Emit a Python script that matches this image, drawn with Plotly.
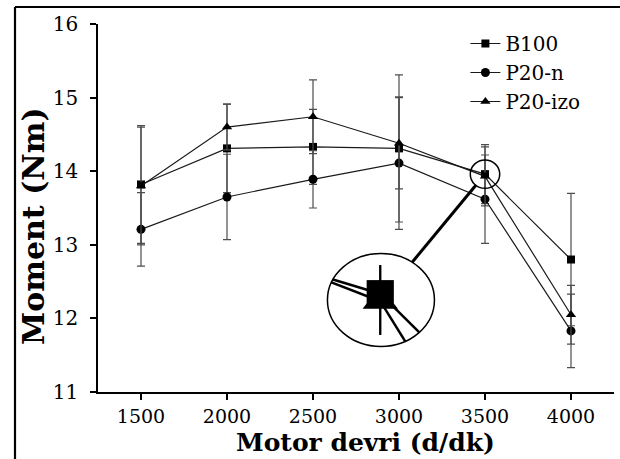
import math
import plotly.graph_objects as go

# Engine torque vs. speed for three fuels (mean ± standard deviation)
rpm = [1500, 2000, 2500, 3000, 3500, 4000]
tick_labels = ["1500", "2000", "2500", "3000", "3500", "4000"]
b100 = [13.82, 14.31, 14.33, 14.31, 13.96, 12.80]
b100_err = [0.80, 0.60, 0.51, 1.00, 0.40, 0.90]
p20n = [13.21, 13.65, 13.89, 14.11, 13.62, 11.83]
p20n_err = [0.50, 0.58, 0.39, 0.90, 0.60, 0.50]
p20izo = [13.80, 14.60, 14.74, 14.38, 13.93, 12.05]
p20izo_err = [0.80, 0.31, 0.50, 0.62, 0.40, 0.40]

series_names = ["B100", "P20-n", "P20-izo"]
x_title = "Motor devri (d/dk)"
y_title = "Moment (Nm)"

# ---- layout constants ----
W, H = 620, 459
ML, MR, MT, MB = 98, 6, 24, 67
XR = [1250, 4250]
YR = [11, 16]
PW, PH = W - ML - MR, H - MT - MB
SX = PW / (XR[1] - XR[0])   # px per rpm
SY = PH / (YR[1] - YR[0])   # px per Nm
FONT = "DejaVu Serif"
LINE_C = "#1a1a1a"
ERR_C = "#4d4d4d"

marker_styles = [("square", 8), ("circle", 9), ("triangle-up", 9)]
values = [b100, p20n, p20izo]
errors = [b100_err, p20n_err, p20izo_err]

fig = go.Figure()
for name, ys, es, (sym, sz) in zip(series_names, values, errors, marker_styles):
    fig.add_trace(go.Scatter(
        x=rpm, y=ys, name=name, mode="lines+markers",
        line=dict(color=LINE_C, width=1.2),
        marker=dict(symbol=sym, size=sz, color="black"),
        error_y=dict(type="data", array=es, visible=True,
                     color=ERR_C, thickness=1.2, width=4),
        cliponaxis=False,
    ))

# ---- magnifier lens around the 3500 rpm point ----
FOCUS = 4
fx, fy = rpm[FOCUS], b100[FOCUS]
small_rx, small_ry = 14.7 / SX, 14.2 / SY
lens_cx, lens_cy = 2895.0, 12.25
lens_rx, lens_ry = 53.5 / SX, 46.5 / SY
orig_x, orig_y = lens_cx - 0.7 / SX, lens_cy + 6.3 / SY
MAG = 3.4


def mag(x, y):
    return orig_x + MAG * (x - fx), orig_y + MAG * (y - fy)


def clip(a, b, k=1.0):
    """Clip segment a-b to the lens ellipse scaled by k."""
    ax, ay = (a[0] - lens_cx) / (k * lens_rx), (a[1] - lens_cy) / (k * lens_ry)
    bx, by = (b[0] - lens_cx) / (k * lens_rx), (b[1] - lens_cy) / (k * lens_ry)
    dx, dy = bx - ax, by - ay
    qa = dx * dx + dy * dy
    qb = 2 * (ax * dx + ay * dy)
    qc = ax * ax + ay * ay - 1
    disc = qb * qb - 4 * qa * qc
    if qa == 0 or disc < 0:
        return None
    t1 = (-qb - math.sqrt(disc)) / (2 * qa)
    t2 = (-qb + math.sqrt(disc)) / (2 * qa)
    t1, t2 = max(t1, 0.0), min(t2, 1.0)
    if t1 >= t2:
        return None
    p = lambda t: (a[0] + t * (b[0] - a[0]), a[1] + t * (b[1] - a[1]))
    return p(t1), p(t2)


def inside(pt):
    return ((pt[0] - lens_cx) / lens_rx) ** 2 + ((pt[1] - lens_cy) / lens_ry) ** 2 < 1


shapes = []
# small lens ring
shapes.append(dict(type="circle", xref="x", yref="y",
                   x0=fx - small_rx, x1=fx + small_rx, y0=fy - small_ry, y1=fy + small_ry,
                   line=dict(color="black", width=1.5)))
# big lens
shapes.append(dict(type="circle", xref="x", yref="y",
                   x0=lens_cx - lens_rx, x1=lens_cx + lens_rx,
                   y0=lens_cy - lens_ry, y1=lens_cy + lens_ry,
                   fillcolor="white", line=dict(color="black", width=1.5)))

# connector between the two lenses
ux, uy = (lens_cx - fx) * SX, (lens_cy - fy) * SY
n = math.hypot(ux, uy)
ux, uy = ux / n, uy / n
r_small = 1 / math.sqrt((ux / (small_rx * SX)) ** 2 + (uy / (small_ry * SY)) ** 2)
r_big = 1 / math.sqrt((ux / (lens_rx * SX)) ** 2 + (uy / (lens_ry * SY)) ** 2)
shapes.append(dict(type="line", xref="x", yref="y",
                   x0=fx + ux * r_small / SX, y0=fy + uy * r_small / SY,
                   x1=lens_cx - ux * r_big / SX, y1=lens_cy - uy * r_big / SY,
                   line=dict(color="black", width=3)))

# magnified error bars
for ys, es in zip(values, errors):
    c = mag(rpm[FOCUS], ys[FOCUS])
    if not inside(c):
        continue
    seg = clip(mag(rpm[FOCUS], ys[FOCUS] - es[FOCUS]), mag(rpm[FOCUS], ys[FOCUS] + es[FOCUS]), 0.75)
    if seg:
        shapes.append(dict(type="line", xref="x", yref="y",
                           x0=seg[0][0], y0=seg[0][1], x1=seg[1][0], y1=seg[1][1],
                           line=dict(color="black", width=2)))

# magnified series lines
for ys in values:
    for j in (FOCUS - 1, FOCUS + 1):
        seg = clip(mag(rpm[FOCUS], ys[FOCUS]), mag(rpm[j], ys[j]))
        if seg:
            shapes.append(dict(type="line", xref="x", yref="y",
                               x0=seg[0][0], y0=seg[0][1], x1=seg[1][0], y1=seg[1][1],
                               line=dict(color="black", width=2.5)))


def marker_path(sym, size, cx, cy):
    s = size * MAG
    r = s / 2
    if sym == "triangle-up":
        rt = r * 2 / math.sqrt(3)
        pts = [(-rt, -r / 2), (rt, -r / 2), (0, r)]
    elif sym == "square":
        pts = [(-r, -r), (r, -r), (r, r), (-r, r)]
    else:
        return None
    d = "M " + " L ".join(f"{cx + px / SX},{cy + py / SY}" for px, py in pts) + " Z"
    return d


# magnified markers (triangle beneath the square)
for idx in (2, 0, 1):
    ys = values[idx]
    c = mag(rpm[FOCUS], ys[FOCUS])
    if not inside(c):
        continue
    sym, sz = marker_styles[idx]
    path = marker_path(sym, sz, c[0], c[1])
    if path:
        shapes.append(dict(type="path", xref="x", yref="y", path=path,
                           fillcolor="black", line=dict(color="black", width=0)))

# outer frame (left and top edges)
fx0 = (15 - ML) / PW
fy1 = (H - MB - 7) / PH
shapes.append(dict(type="line", xref="paper", yref="paper",
                   x0=fx0, x1=fx0, y0=fy1, y1=-0.3, line=dict(color="black", width=2.2)))
shapes.append(dict(type="line", xref="paper", yref="paper",
                   x0=fx0, x1=1.05, y0=fy1, y1=fy1, line=dict(color="black", width=2.2)))

# axis titles
annotations = [
    dict(text=x_title, xref="paper", yref="paper",
         x=(365 - ML) / PW, y=(H - MB - 442) / PH, xanchor="center", yanchor="middle",
         showarrow=False, font=dict(family=FONT, size=25, weight="bold", color="black")),
    dict(text=y_title, xref="paper", yref="paper",
         x=(33 - ML) / PW, y=(H - MB - 226) / PH, xanchor="center", yanchor="middle",
         textangle=-90, showarrow=False,
         font=dict(family=FONT, size=30, weight="bold", color="black")),
]

fig.update_layout(
    width=W, height=H,
    margin=dict(l=ML, r=MR, t=MT, b=MB),
    paper_bgcolor="white", plot_bgcolor="white",
    font=dict(family=FONT, color="black"),
    showlegend=True,
    legend=dict(x=0.712, y=1.0, xanchor="left", yanchor="top",
                bgcolor="rgba(0,0,0,0)", font=dict(family=FONT, size=20, color="black")),
    shapes=shapes,
    annotations=annotations,
)
fig.update_xaxes(
    range=XR, tickvals=rpm, ticktext=tick_labels,
    showline=True, linecolor="black", linewidth=1.5,
    ticks="outside", ticklen=6, tickwidth=1.5, tickcolor="black",
    showgrid=False, zeroline=False, ticklabelstandoff=0,
    tickfont=dict(family=FONT, size=19, color="black"),
)
fig.update_yaxes(
    range=YR, tickvals=[11, 12, 13, 14, 15, 16],
    showline=True, linecolor="black", linewidth=1.5,
    ticks="outside", ticklen=6, tickwidth=1.5, tickcolor="black",
    showgrid=False, zeroline=False, ticklabelstandoff=8,
    tickfont=dict(family=FONT, size=20, color="black"),
)

fig.write_html("out.html")
